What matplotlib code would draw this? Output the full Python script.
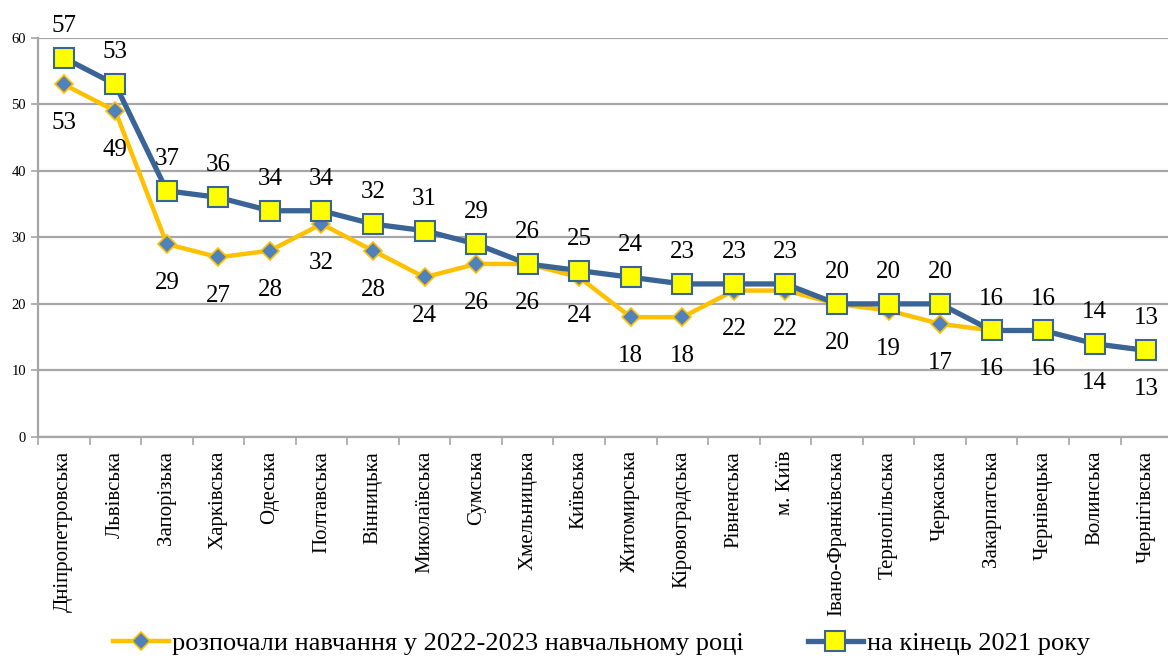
import matplotlib.pyplot as plt

# ---------------------------------------------------------------------------
# Дані
# ---------------------------------------------------------------------------
oblasti = ["Дніпропетровська", "Львівська", "Запорізька", "Харківська",
           "Одеська", "Полтавська", "Вінницька", "Миколаївська", "Сумська",
           "Хмельницька", "Київська", "Житомирська", "Кіровоградська",
           "Рівненська", "м. Київ", "Івано-Франківська", "Тернопільська",
           "Черкаська", "Закарпатська", "Чернівецька", "Волинська",
           "Чернігівська"]

rozpochaly_2022 = [53, 49, 29, 27, 28, 32, 28, 24, 26, 26, 24, 18, 18,
                   22, 22, 20, 19, 17, 16, 16, 14, 13]
kinets_2021 = [57, 53, 37, 36, 34, 34, 32, 31, 29, 26, 25, 24, 23,
               23, 23, 20, 20, 20, 16, 16, 14, 13]

nazva_1 = "розпочали навчання у 2022-2023 навчальному році"
nazva_2 = "на кінець 2021 року"

plt.rcParams['font.family'] = ['Liberation Serif', 'DejaVu Serif']

fig = plt.figure(figsize=(11.68, 6.63), dpi=100)
ax = fig.add_axes([0.0325, 0.341, 0.971, 0.602])

x = list(range(len(oblasti)))

# Сітка
ax.set_axisbelow(True)
ax.yaxis.grid(True, color='#a6a6a6', linewidth=1.6)

l1, = ax.plot(x, rozpochaly_2022, color='#FFC000', linewidth=3.2,
              marker='D', markersize=9, markerfacecolor='#4F81BD',
              markeredgecolor='#FFC000', markeredgewidth=1.2, zorder=3)
l2, = ax.plot(x, kinets_2021, color='#3A6396', linewidth=3.8,
              marker='s', markersize=14, markerfacecolor='#FFFF00',
              markeredgecolor='#3A6396', markeredgewidth=1.5, zorder=4)

# Підписи значень: сині зверху, жовті знизу
for xi, v in zip(x, kinets_2021):
    ax.annotate(str(v), (xi, v), xytext=(0, 23), textcoords='offset points',
                ha='center', va='center', fontsize=18)
for xi, v in zip(x, rozpochaly_2022):
    ax.annotate(str(v), (xi, v), xytext=(0, -28), textcoords='offset points',
                ha='center', va='center', fontsize=18)

ax.set_ylim(0, 60)
ax.set_yticks(range(0, 61, 10))
ax.set_xlim(-0.5, len(oblasti) - 0.5)
ax.set_xticks(x)
ax.set_xticklabels(oblasti, rotation=90, fontsize=15)
ax.set_xticks([i - 0.5 for i in range(len(oblasti) + 1)], minor=True)
ax.tick_params(axis='x', which='major', length=0, pad=10)
ax.tick_params(axis='x', which='minor', length=6, color='#a6a6a6', width=1.2)
ax.tick_params(axis='y', length=5, color='#a6a6a6', width=1.2, labelsize=10.5)

for s in ['top', 'right']:
    ax.spines[s].set_visible(False)
for s in ['left', 'bottom']:
    ax.spines[s].set_color('#a6a6a6')
    ax.spines[s].set_linewidth(1.6)

fig.legend([l1, l2], [nazva_1, nazva_2], loc='center', ncol=2,
           bbox_to_anchor=(0.515, 0.03), frameon=False, fontsize=19,
           handlelength=2.1, handletextpad=0.15, columnspacing=2.4)

fig.savefig("out.png", dpi=100)
